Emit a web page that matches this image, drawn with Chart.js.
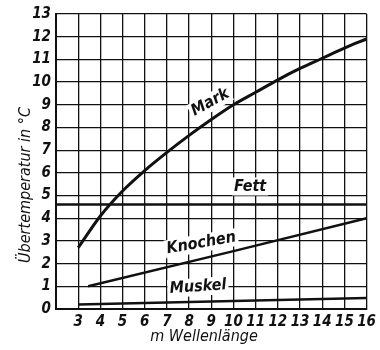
<!DOCTYPE html>
<html>
<head>
<meta charset="utf-8">
<script src="https://cdn.jsdelivr.net/npm/chart.js@4.4.0/dist/chart.umd.min.js"></script>
<style>
  html, body { margin: 0; padding: 0; background: #fff; }
  #wrap { width: 380px; height: 350px; }
</style>
</head>
<body>
<div id="wrap"><canvas id="chart" width="380" height="350"></canvas></div>
<script>
// values
const markX = [3, 4, 5, 6, 7, 8, 9, 10, 11, 12, 13, 14, 15, 16];
const markY = [2.7, 4.1, 5.2, 6.1, 6.9, 7.65, 8.35, 9.0, 9.55, 10.1, 10.6, 11.05, 11.5, 11.9];
const fettX = [2, 16];
const fettY = [4.6, 4.6];
const knochenX = [3.45, 10, 16];
const knochenY = [1.0, 2.55, 4.0];
const muskelX = [3, 16];
const muskelY = [0.2, 0.48];

const xTicks = [3, 4, 5, 6, 7, 8, 9, 10, 11, 12, 13, 14, 15, 16];
const yTicks = [0, 1, 2, 3, 4, 5, 6, 7, 8, 9, 10, 11, 12, 13];

// curve names, placed in data units, with tilt in degrees
const labelNames = ['Mark', 'Fett', 'Knochen', 'Muskel'];
const labelX = [8.95, 10.75, 8.55, 8.4];
const labelY = [9.1, 5.4, 2.9, 0.97];
const labelTilt = [-29, 0, -10, -4];

const tickFont = "'DejaVu Sans Condensed', 'DejaVu Sans', sans-serif";
const ink = '#111';

function pts(xs, ys) {
  return xs.map((x, i) => ({ x: x, y: ys[i] }));
}

function lineSet(name, xs, ys, width, smooth) {
  return {
    label: name,
    data: pts(xs, ys),
    borderColor: ink,
    borderWidth: width,
    pointRadius: 0,
    fill: false,
    tension: smooth ? 0.4 : 0,
    cubicInterpolationMode: smooth ? 'monotone' : 'default'
  };
}

const curveLabels = {
  id: 'curveLabels',
  afterDatasetsDraw(chart) {
    const ctx = chart.ctx;
    const xs = chart.scales.x, ys = chart.scales.y;
    ctx.save();
    ctx.font = "italic bold 16px 'DejaVu Sans Condensed', 'DejaVu Sans', sans-serif";
    ctx.textAlign = 'center';
    ctx.textBaseline = 'middle';
    labelNames.forEach((name, i) => {
      const px = xs.getPixelForValue(labelX[i]);
      const py = ys.getPixelForValue(labelY[i]);
      ctx.save();
      ctx.translate(px, py);
      ctx.rotate(labelTilt[i] * Math.PI / 180);
      const w = ctx.measureText(name).width;
      ctx.fillStyle = '#fff';
      ctx.fillRect(-w / 2 - 2, -9, w + 4, 18);
      ctx.fillStyle = ink;
      ctx.fillText(name, 0, 0);
      ctx.restore();
    });

    // axis titles
    ctx.font = "italic 16px " + tickFont;
    ctx.fillStyle = ink;
    ctx.save();
    ctx.translate(26, 185);
    ctx.rotate(-Math.PI / 2);
    ctx.fillText('Übertemperatur in °C', 0, 0);
    ctx.restore();
    ctx.fillText('m Wellenlänge', 204, 337);
    ctx.restore();
  }
};

new Chart(document.getElementById('chart'), {
  type: 'line',
  data: {
    datasets: [
      lineSet('Mark', markX, markY, 3, true),
      lineSet('Fett', fettX, fettY, 2.5, false),
      lineSet('Knochen', knochenX, knochenY, 2.5, false),
      lineSet('Muskel', muskelX, muskelY, 2.5, false)
    ]
  },
  options: {
    responsive: false,
    animation: false,
    layout: { padding: { top: 13, right: 6, left: 0, bottom: 0 } },
    plugins: {
      legend: { display: false },
      tooltip: { enabled: false }
    },
    scales: {
      x: {
        type: 'linear',
        min: 2,
        max: 16,
        afterBuildTicks(scale) {
          scale.ticks = [2].concat(xTicks).map(v => ({ value: v }));
        },
        afterFit(scale) { scale.height = 41; },
        grid: { color: ink, lineWidth: 1.3, drawTicks: false },
        border: { color: ink, width: 2 },
        ticks: {
          padding: 4,
          color: ink,
          font: { family: tickFont, size: 15, style: 'italic', weight: 'bold' },
          maxRotation: 0,
          callback: v => (v === 2 ? '' : String(v))
        }
      },
      y: {
        type: 'linear',
        min: 0,
        max: 13,
        afterBuildTicks(scale) {
          scale.ticks = yTicks.map(v => ({ value: v }));
        },
        afterFit(scale) { scale.width = 56; },
        grid: { color: ink, lineWidth: 1.3, drawTicks: false },
        border: { color: ink, width: 2 },
        ticks: {
          padding: 5,
          color: ink,
          font: { family: tickFont, size: 15, style: 'italic', weight: 'bold' }
        }
      }
    }
  },
  plugins: [curveLabels]
});
</script>
</body>
</html>
